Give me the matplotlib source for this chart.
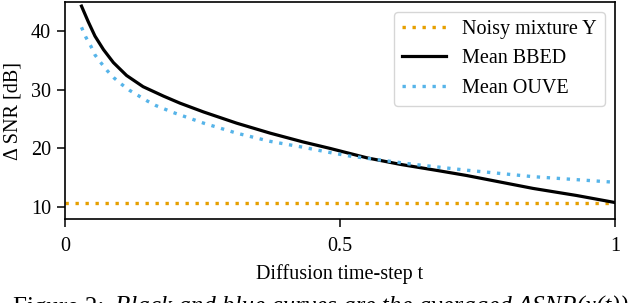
import matplotlib
matplotlib.use("Agg")
import matplotlib.pyplot as plt

plt.rcParams['font.family'] = ['Liberation Serif', 'DejaVu Serif']
plt.rcParams['font.size'] = 14.5

# values
t_bbed = [0.030, 0.042, 0.0545, 0.070, 0.088, 0.112, 0.142, 0.179, 0.209,
          0.252, 0.312, 0.373, 0.433, 0.482, 0.549, 0.609, 0.680, 0.730,
          0.851, 0.930, 1.0]
snr_bbed = [44.2, 41.6, 39.1, 36.8, 34.6, 32.4, 30.5, 28.9, 27.7,
            26.2, 24.3, 22.6, 21.1, 20.0, 18.4, 17.3, 16.2, 15.4,
            13.2, 12.0, 10.8]

t_ouve = [0.030, 0.038, 0.047, 0.0545, 0.065, 0.077, 0.089, 0.103, 0.117,
          0.133, 0.149, 0.165, 0.181, 0.197, 0.252, 0.312, 0.373, 0.433,
          0.476, 0.518, 0.633, 0.730, 0.851, 0.991]
snr_ouve = [40.6, 38.9, 37.4, 35.9, 34.6, 33.2, 32.0, 30.9, 29.9,
            29.0, 28.1, 27.3, 26.7, 26.1, 24.3, 22.6, 21.2, 20.2,
            19.4, 18.7, 17.3, 16.3, 15.2, 14.3]

noisy_snr = 10.73

ORANGE = "#E69F00"
BLUE = "#56B4E9"

fig = plt.figure(figsize=(6.4, 3.03), dpi=100)
ax = fig.add_axes([65 / 640, 1 - 219 / 303, 550 / 640, 217 / 303])

ax.plot([0, 1], [noisy_snr, noisy_snr], color=ORANGE, lw=2.4,
        linestyle=(0, (1, 2)), label='Noisy mixture Y')
ax.plot(t_bbed, snr_bbed, color='black', lw=2.3, label='Mean BBED')
ax.plot(t_ouve, snr_ouve, color=BLUE, lw=2.4, linestyle=(0, (1, 2)),
        label='Mean OUVE')

ax.set_xlim(0, 1)
ax.set_ylim(8, 44.9)
ax.set_xticks([0, 0.5, 1])
ax.set_xticklabels(['0', '0.5', '1'])
ax.set_yticks([10, 20, 30, 40])
ax.tick_params(length=6, width=1.1, pad=4)
ax.tick_params(axis='x', pad=7)
for s in ax.spines.values():
    s.set_linewidth(1.2)

ax.set_xlabel('Diffusion time-step t', labelpad=6)
ax.set_ylabel('Δ SNR [dB]', labelpad=6)

ax.legend(loc='upper right', handlelength=2.2)

# caption cut off at the bottom edge of the picture
fig.text(13 / 640, 1 - 314 / 303, 'Figure 2:', fontsize=18,
         va='baseline', ha='left', style='normal')
fig.text(115 / 640, 1 - 314 / 303,
         'Black and blue curves are the averaged ΔSNR(x(t))',
         fontsize=18, style='italic', va='baseline', ha='left')

fig.savefig('out.png', dpi=100)
